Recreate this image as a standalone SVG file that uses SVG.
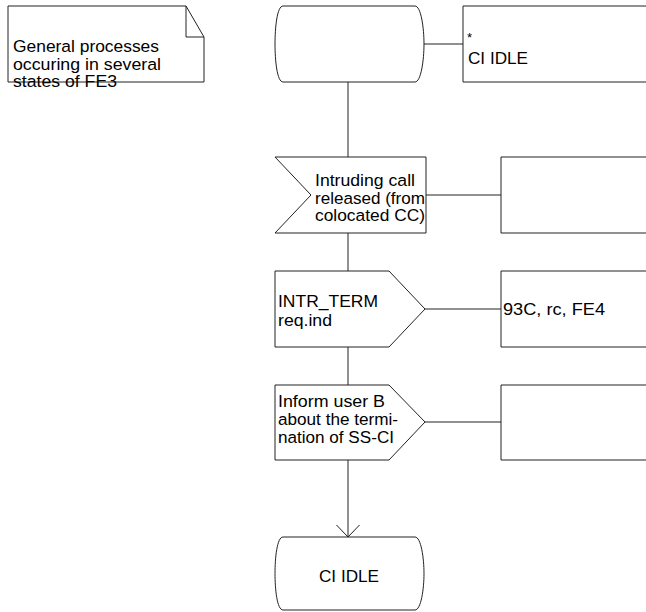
<svg xmlns="http://www.w3.org/2000/svg" width="646" height="612" viewBox="0 0 646 612">
  <style>
    .shape { fill: #fff; stroke: #222; stroke-width: 1; }
    .line { fill: none; stroke: #222; stroke-width: 1; }
    text { font-family: "Liberation Sans", Arial, sans-serif; font-size: 16.8px; fill: #000; }
  </style>
  <rect width="646" height="612" fill="#fff"/>

  <!-- connectors -->
  <g id="connectors">
    <path class="line" d="M424,44 H463"/>
    <path class="line" d="M348,82 V157"/>
    <path class="line" d="M426,195 H501"/>
    <path class="line" d="M348,233 V271"/>
    <path class="line" d="M425,309 H501"/>
    <path class="line" d="M348,347 V385"/>
    <path class="line" d="M425,422 H501"/>
    <path class="line" d="M348,460 V537"/>
    <!-- open arrowhead into the next state -->
    <path class="line" d="M336.5,525 L348,537 L359.5,525"/>
  </g>

  <!-- text annotation with folded corner -->
  <g id="note">
    <path class="shape" d="M8,6 H186 L204,37 V82 H8 Z"/>
    <path class="line" d="M186,6 V37 H204"/>
    <text x="13" y="52" textLength="146" lengthAdjust="spacingAndGlyphs">General processes</text>
    <text x="13" y="69.5" textLength="148" lengthAdjust="spacingAndGlyphs">occuring in several</text>
    <text x="13" y="87" textLength="104" lengthAdjust="spacingAndGlyphs">states of FE3</text>
  </g>

  <!-- start state -->
  <g id="state-start">
    <path class="shape" d="M283,6 L415,6 C421,6 424,28 424,44 C424,60 421,82 415,82 L283,82 C277,82 275,60 275,44 C275,28 277,6 283,6 Z"/>
  </g>
  <!-- comment boxes run off the right edge of the sheet -->
  <g id="comment-state">
    <path class="line" d="M646,6 H463 V82 H646"/>
    <text x="467" y="42" style="font-size:13px">*</text>
    <text x="468" y="64" textLength="60" lengthAdjust="spacingAndGlyphs">CI IDLE</text>
  </g>

  <!-- input signal -->
  <g id="input-released">
    <path class="shape" d="M275,157 H426 V233 H275 L311,195 Z"/>
    <text x="315" y="186" textLength="100" lengthAdjust="spacingAndGlyphs">Intruding call</text>
    <text x="315" y="203.5" textLength="110" lengthAdjust="spacingAndGlyphs">released (from</text>
    <text x="315" y="221" textLength="110" lengthAdjust="spacingAndGlyphs">colocated CC)</text>
  </g>
  <g id="comment-input">
    <path class="line" d="M646,157 H501 V233 H646"/>
  </g>

  <!-- output signal INTR_TERM -->
  <g id="output-intr-term">
    <path class="shape" d="M275,271 H389 L425,309 L389,347 H275 Z"/>
    <text x="278" y="307" textLength="100" lengthAdjust="spacingAndGlyphs">INTR_TERM</text>
    <text x="278" y="325.5" textLength="54" lengthAdjust="spacingAndGlyphs">req.ind</text>
  </g>
  <g id="comment-output">
    <path class="line" d="M646,271 H501 V347 H646"/>
    <text x="503" y="315" textLength="102" lengthAdjust="spacingAndGlyphs">93C, rc, FE4</text>
  </g>

  <!-- output: inform user B -->
  <g id="output-inform">
    <path class="shape" d="M275,385 H389 L425,422 L389,460 H275 Z"/>
    <text x="278" y="407" textLength="107" lengthAdjust="spacingAndGlyphs">Inform user B</text>
    <text x="278" y="425" textLength="120" lengthAdjust="spacingAndGlyphs">about the termi-</text>
    <text x="278" y="442.5" textLength="116" lengthAdjust="spacingAndGlyphs">nation of SS-CI</text>
  </g>
  <g id="comment-inform">
    <path class="line" d="M646,385 H501 V460 H646"/>
  </g>

  <!-- next state -->
  <g id="state-ci-idle">
    <path class="shape" d="M283,537 L415,537 C421,537 424,558 424,573.5 C424,589 421,610 415,610 L283,610 C277,610 275,589 275,573.5 C275,558 277,537 283,537 Z"/>
    <text x="319" y="582" textLength="60" lengthAdjust="spacingAndGlyphs">CI IDLE</text>
  </g>
</svg>
